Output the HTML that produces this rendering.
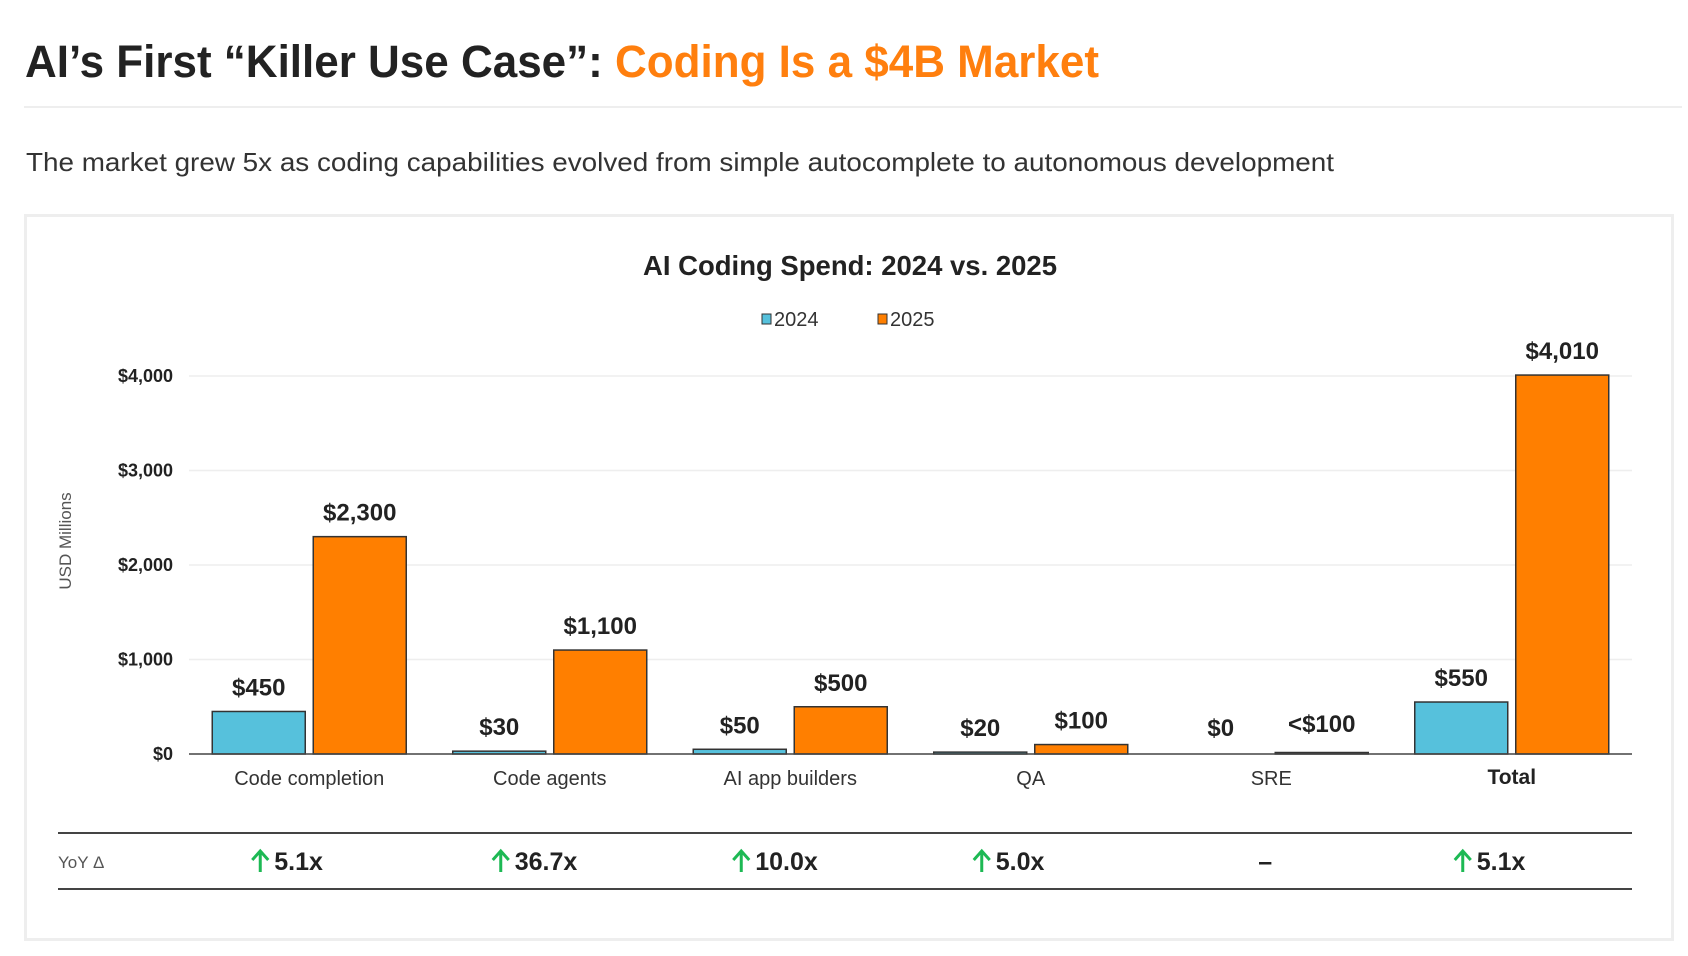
<!DOCTYPE html>
<html><head><meta charset="utf-8"><style>
html,body{margin:0;padding:0;background:#fff;}
svg{display:block;font-family:"Liberation Sans",sans-serif;}
</style></head><body>
<svg id="chart" width="1688" height="956" viewBox="0 0 1688 956">
  <text x="25" y="77" font-size="45" font-weight="bold" fill="#222" textLength="1074" lengthAdjust="spacingAndGlyphs">AI’s First “Killer Use Case”: <tspan fill="#ff7f0e">Coding Is a $4B Market</tspan></text>
  <rect x="24" y="106" width="1658" height="2" fill="#eeeeee"/>
  <text x="26" y="171" font-size="26" fill="#333" textLength="1308" lengthAdjust="spacingAndGlyphs">The market grew 5x as coding capabilities evolved from simple autocomplete to autonomous development</text>
  <rect x="25.5" y="215.5" width="1647" height="724" fill="#fff" stroke="#eeeeee" stroke-width="3"/>
  <text x="850" y="275" font-size="28" font-weight="bold" fill="#222" text-anchor="middle" textLength="414" lengthAdjust="spacingAndGlyphs">AI Coding Spend: 2024 vs. 2025</text>
  <g>
    <rect x="762" y="314" width="9" height="10" fill="#56c1dc" stroke="#333" stroke-width="1"/>
    <text x="774" y="326" font-size="20" fill="#333">2024</text>
    <rect x="878" y="314" width="9" height="10" fill="#ff7f00" stroke="#333" stroke-width="1"/>
    <text x="890" y="326" font-size="20" fill="#333">2025</text>
  </g>
  <text transform="translate(71,541) rotate(-90)" font-size="17" fill="#555" text-anchor="middle">USD Millions</text>
  <g id="grid"></g>
  <g id="bars"></g>
  <line x1="58" y1="833" x2="1632" y2="833" stroke="#444" stroke-width="2"/>
  <line x1="58" y1="889" x2="1632" y2="889" stroke="#444" stroke-width="2"/>
  <text x="58" y="868" font-size="17" fill="#555">YoY Δ</text>
  <g id="yoy"></g>
</svg>
<script>
const categories = ["Code completion","Code agents","AI app builders","QA","SRE","Total"];
const values2024 = [450,30,50,20,0,550];
const values2025 = [2300,1100,500,100,10,4010];
const labels2024 = ["$450","$30","$50","$20","$0","$550"];
const labels2025 = ["$2,300","$1,100","$500","$100","<$100","$4,010"];
const yoyLabels = ["5.1x","36.7x","10.0x","5.0x","–","5.1x"];
const yoyUp = [true,true,true,true,false,true];
const yTicks = [0,1000,2000,3000,4000];
const yTickLabels = ["$0","$1,000","$2,000","$3,000","$4,000"];

const NS="http://www.w3.org/2000/svg";
const plotL=189, plotR=1632, y0=754, yTop=376, yMax=4000;
const y = v => y0 - (v/yMax)*(y0-yTop);
const bandW=(plotR-plotL)/categories.length;
const xc = i => plotL + bandW*(i+0.5);
function mk(tag,attrs,parent,text){const e=document.createElementNS(NS,tag);for(const k in attrs)e.setAttribute(k,attrs[k]);if(text!==undefined)e.textContent=text;parent.appendChild(e);return e;}
const grid=document.getElementById('grid'), bars=document.getElementById('bars'), yoy=document.getElementById('yoy');
yTicks.forEach((t,i)=>{
  if(t>0){const g=mk('line',{x1:plotL,x2:plotR,y1:y(t),y2:y(t),stroke:'#eeeeee','stroke-width':1.5},grid);
  
  }
  const l=mk('text',{x:173,y:y(t)+6,'font-size':18,'font-weight':'bold',fill:'#222','text-anchor':'end'},grid,yTickLabels[i]);
  
  
});
const bw=93, gap=8;
categories.forEach((c,i)=>{
  const cx=xc(i);
  const h1=Math.max(y0-y(values2024[i]), values2024[i]>0?1.5:0);
  if(values2024[i]>0){
    const b=mk('rect',{x:cx-gap/2-bw,y:y0-h1,width:bw,height:h1,fill:'#56c1dc',stroke:'#333','stroke-width':1.5},bars);
    
    
  }
  const t1=mk('text',{x:cx-gap/2-bw/2,y:Math.min(y(values2024[i]),y0-2)-16,'font-size':24,'font-weight':'bold',fill:'#222','text-anchor':'middle'},bars,labels2024[i]);
  
  
  const h2=Math.max(y0-y(values2025[i]),1.5);
  const b2=mk('rect',{x:cx+gap/2,y:y0-h2,width:bw,height:h2,fill:'#ff7f00',stroke:'#333','stroke-width':1.5},bars);
  
  
  const t2=mk('text',{x:cx+gap/2+bw/2,y:Math.min(y(values2025[i]),y0-6)-16,'font-size':24,'font-weight':'bold',fill:'#222','text-anchor':'middle'},bars,labels2025[i]);
  
  
  const isTotal = c==="Total";
  const cl=mk('text',{x:cx,y:isTotal?784:785,'font-size':isTotal?21:20,'font-weight':isTotal?'bold':'normal',fill:isTotal?'#222':'#333','text-anchor':'middle'},bars,c);
  
  
  const yg=mk('g',{},yoy);
  
  
  if(yoyUp[i]){
    mk('text',{x:cx-35,y:870,'font-size':25,'font-weight':'bold',fill:'#222'},yg,yoyLabels[i]);
    const a=mk('path',{d:`M${cx-49} 872 V852 M${cx-57} 860 L${cx-49} 851 L${cx-41} 860`,stroke:'#1db954','stroke-width':3,fill:'none'},yg);
    
    
  } else {
    mk('text',{x:cx-6,y:870,'font-size':25,'font-weight':'bold',fill:'#222','text-anchor':'middle'},yg,yoyLabels[i]);
  }
});
const ax=mk('line',{x1:plotL,x2:plotR,y1:y0,y2:y0,stroke:'#444','stroke-width':1.5},bars);


</script>
</body></html>
